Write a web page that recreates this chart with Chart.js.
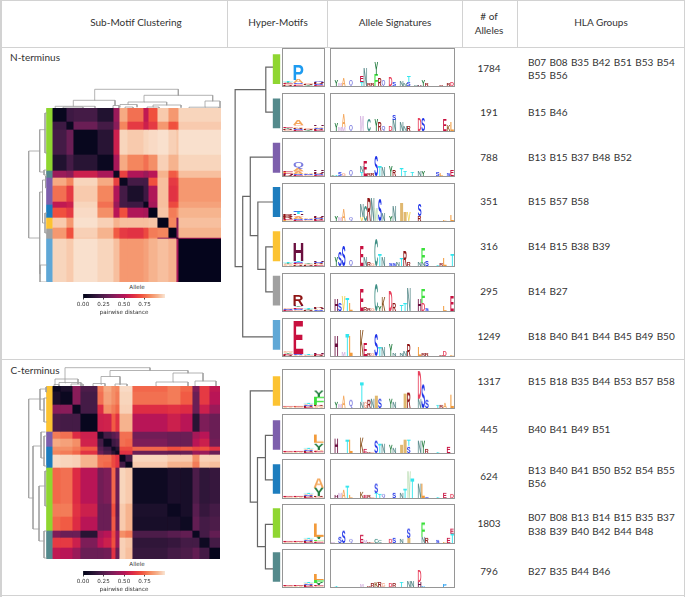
<!DOCTYPE html>
<html>
<head>
<meta charset="utf-8">
<title>Hyper-motifs</title>
<script src="https://cdn.jsdelivr.net/npm/chart.js@4"></script>
<style>
  html, body { margin: 0; background: #fff; }
  #page { position: relative; width: 685px; height: 597px; overflow: hidden; font-family: Lato, "Open Sans", sans-serif; color: #333; }
  #page canvas { position: absolute; display: block; }
  .rule { position: absolute; background: #d2d2d2; }
  .txt { position: absolute; white-space: pre; text-align: center; line-height: 13.5px; font-size: 10px; transform: translate(-50%, -50%); }
  .hla { position: absolute; white-space: pre; line-height: 13.5px; font-size: 10px; transform: translateY(-50%); }
  .hla span { display: inline-block; width: 21.45px; }
  .small { font-family: "DejaVu Sans"; font-size: 5.6px; line-height: 7px; color: #333; }
  .frame { position: absolute; box-sizing: border-box; border: 1px solid #969696; }
</style>
</head>
<body>
<div id="page"></div>
<script>
'use strict';

// ---- table text
const headers = ['Sub-Motif Clustering', 'Hyper-Motifs', 'Allele Signatures', '# of\nAlleles', 'HLA Groups'];
const alleleCountsN = [1784, 191, 788, 351, 316, 295, 1249];
const alleleCountsC = [1317, 445, 624, 1803, 796];
const hlaGroupsN = [
  ['B07 B08 B35 B42 B51 B53 B54', 'B55 B56'],
  ['B15 B46'],
  ['B13 B15 B37 B48 B52'],
  ['B15 B57 B58'],
  ['B14 B15 B38 B39'],
  ['B14 B27'],
  ['B18 B40 B41 B44 B45 B49 B50'],
];
const hlaGroupsC = [
  ['B15 B18 B35 B44 B53 B57 B58'],
  ['B40 B41 B49 B51'],
  ['B13 B40 B41 B50 B52 B54 B55', 'B56'],
  ['B07 B08 B13 B14 B15 B35 B37', 'B38 B39 B40 B42 B44 B48'],
  ['B27 B35 B44 B46'],
];

// ---- hyper-motif colours
const green = '#8fd631', teal = '#548a8c', purple = '#7d5fac', blue = '#1d7dbe';
const yellow = '#fcc332', grey = '#a0a0a0', sky = '#60a8d6';
const swatchesN = [green, teal, purple, blue, yellow, grey, sky];
const swatchesC = [yellow, purple, blue, green, teal];

// ---- heatmap N-terminus: block sizes (cols, rows) and upper triangle of distances
const colSizesN = [13, 7, 24, 16, 6, 8, 16, 5, 9, 11, 8, 2, 43];
const rowSizesN = [14, 8, 25, 16, 7, 8, 16, 6, 10, 10, 10, 1, 43];
const distN = [
  [.02, .18, .2, .1, .42, .88, .76, .52, .7, .94, .84, .84, .96],
  [.03, .3, .2, .38, .8, .64, .55, .64, .84, .7, .72, .94],
  [.02, .12, .55, .96, .94, .96, .97, .98, .95, .93, .98],
  [.03, .46, .88, .8, .76, .82, .95, .9, .9, .96],
  [.04, .66, .48, .42, .5, .9, .72, .76, .92],
  [.03, .2, .2, .7, .92, .64, .66, .84],
  [.08, .18, .48, .92, .62, .64, .84],
  [.02, .45, .92, .68, .7, .86],
  [.01, .93, .78, .82, .9],
  [.01, .8, .38, .92],
  [.01, .38, .9],
  [.02, .45],
  [.01],
];
const bandSizesN = [63, 7, 27, 13, 11, 10, 43];

// ---- heatmap C-terminus
const colSizesC = [7, 12, 8, 17, 6, 8, 4, 4, 6, 7, 35, 13, 12, 7, 10, 11];
const rowSizesC = [6, 13, 9, 18, 7, 8, 4, 4, 7, 6, 36, 13, 14, 7, 10, 11];
const distC = [
  [.03, .08, .38, .22, .78, .88, .82, .8, .97, .97, .74, .78, .74, .35, .64, .52],
  [.03, .38, .2, .76, .86, .82, .78, .96, .96, .76, .78, .72, .3, .64, .5],
  [.03, .2, .6, .82, .78, .74, .95, .95, .6, .62, .6, .3, .55, .42],
  [.02, .55, .56, .72, .62, .9, .9, .5, .55, .5, .12, .35, .3],
  [.05, .2, .25, .3, .76, .76, .32, .3, .3, .45, .5, .3],
  [.03, .18, .22, .76, .74, .35, .3, .3, .5, .55, .32],
  [.04, .12, .68, .68, .74, .7, .72, .68, .7, .62],
  [.04, .62, .62, .3, .28, .3, .42, .42, .3],
  [.02, .2, .96, .94, .94, .82, .95, .95],
  [.02, .94, .9, .9, .78, .93, .92],
  [.04, .08, .07, .22, .14, .16],
  [.03, .07, .25, .16, .2],
  [.04, .28, .2, .22],
  [.03, .2, .28],
  [.04, .2],
  [.01],
];
const bandSizesC = [46, 15, 21, 63, 28];

// rocket colour scale, steps of 0.1
const rocket = ['#03051a', '#221331', '#451c47', '#6a1f56', '#921c5b', '#b91657', '#dd2c45', '#f0513f', '#f4875e', '#f6b48e', '#faebdd'];

// ---- dendrograms: [pos a, height a, pos b, height b, merge height]
const treeTopN = [
  [41.7, 7.7, 125.3, 12.7, 18.7],
  [20.3, 1.7, 62, 2.5, 7.7],
  [2, .4, 42, .4, 1.7], [60, 0, 66, 0, 2.5], [10, 0, 30, 0, .9],
  [91, 6, 159.7, 7, 12.7],
  [75, 3.5, 113.7, 3, 6],
  [67, 1, 84, 1, 3.5], [100, 1, 128, .5, 3],
  [152, .8, 167, 0, 7], [136, 0, 166, 0, .8],
  [72, 0, 80, 0, 1], [94, 0, 106, 0, 1],
];
const treeLeftN = [
  [43, 7.3, 130, 7.3, 18.3],
  [21.7, 2, 64, 3, 7.3],
  [5, .3, 45, .3, 2], [62, 0, 67, 0, 3],
  [84, 4.5, 165.7, 7, 7.3],
  [72, 1.5, 115, 2, 4.5], [68, 0, 80, 0, 1.5], [105, 0, 125, 0, 2],
  [157, 0, 174, 0, 7],
];
const treeTopC = [
  [12, 3, 97, 15.5, 18.3],
  [2, 1, 25, 2, 7],
  [1, 0, 6, 0, 1.5], [18, 0, 30, 0, 2],
  [57, 9.5, 135, 13, 15.5],
  [48, 1.5, 67, 1.5, 9.5],
  [40, 0, 52, 0, 2.5], [62, 0, 74, 0, 2],
  [120, 4, 150, 5, 13],
  [103, 0, 135, 0, 4], [142, 0, 163, 0, 5], [6, 0, 28, 0, 3.5],
];
const treeLeftC = [
  [13, 4, 112, 14, 18.3],
  [3, 1, 24, 3, 7],
  [1, 0, 6, 0, 1], [12, 0, 36, 0, 3],
  [60, 6, 143, 8, 14],
  [46, 2, 72, 3, 6], [50, 0, 80, 0, 3],
  [100, 2, 155, 3, 8], [85, 0, 120, 0, 2], [145, 0, 172, 0, 3],
];
const treeHyperN = [
  [0, 0, 1, 0, .19],
  [4, 0, 5, 0, .19],
  [3, 0, 4.5, .19, .4],
  [2, 0, 3.75, .4, .6],
  [2.875, .6, 6, 0, .8],
  [.5, .19, 4.44, .8, 1],
];
const treeHyperC = [
  [1, 0, 2, 0, .2],
  [3, 0, 4, 0, .2],
  [1.5, .2, 3.5, .2, .41],
  [0, 0, 2.5, .41, .6],
];

// ---- motif logos: four positions, letters listed bottom to top with their height
const motifN = [
  ['R3G3E3Y3T3', 'E3G3S4A10P48', 'Y3R3G3', 'E3S3R4H3Q3'],
  ['G3R3Y3E3', 'E3S4R4A4G5A14', 'Y3R3G3', 'E3R4S4A4H4'],
  ['R3H3E4L3E3', 'E3S3A6G5A8Q20', 'G3S3A3', 'E3S4R4H4H3'],
  ['L3E4R6R6', 'E3S4A6G5H4T7S3', 'G3S3A3', 'E3R4S4R3H3'],
  ['A3G3Y3T3', 'R3A3E3S4T3H57', 'R4G3Y3', 'E3A3R3S3H4'],
  ['E2A2S2G3', 'G3S4E5Y4H4R32', 'R3Y3T3', 'S3A2H3R3'],
  ['R3E3Y4A4G4', 'A2S3E105', 'G3T2', 'R3E3H3'],
];
const motifC = [
  ['A2E2G2', 'G2E2A3', 'E3R3S3A4T3', 'A3G3R3F25Y20'],
  ['G2A2E2', 'A2G2E3', 'E3R3S3A4T3', 'G3E3A3Y22L24'],
  ['G2A2E2', 'A2G2E3', 'E3R3S3A4T3', 'G3R3Y25A28'],
  ['G2A2E2', 'A2G2E3', 'E3R3S3A4T3', 'E3G4F5Y8L40'],
  ['G2A2E2', 'A2G2E3', 'E3R3S3A4T3', 'G3E3Y8F8L18'],
];

// ---- allele signature logos: 34 positions, '.' is an empty one
const sigN1 = '. Y22 M6 A25 . Q20 . . T12E22 N55 R6 R8 F35Y40 R25 Q18 . D30 S12 . N14 N8 S12T22 . N4 H5 Y22 R8 . . . R4 . R8 D10'.split(' ');
const sigN2 = '. Y25 M12 M12A40 . Q18 . . M50 . C35 . Y38 R28 Q15 . D15 N35S15 . N30 N15 R15 . . D40 S42 . . . . . E35 K20 L30'.split(' ');
const sigN3 = 'Y3 T4 S10 G8 . Q20 . . T12N20 E50 R8 R6 S65 T32 N30 . Y32 R20 . T25 T15 . T12 . N15 Y15 . . . S12 L8 . S6 E20'.split(' ');
const sigN4 = '. Y15 M10 A38 . Q12 . . V12N40 C50 R75 N75 W40 S70 N25 . Y15 N50 . I55 I30 V30 . . R15S38 . . . . . . L3 . L22'.split(' ');
const sigN5 = '. Y30 S45 S65 . Q18 . . E65 N30 R10 G8 C85 T35 N30 . S8 S8 N10 T25 R50 R12 . . N10 N10F50 S15 . . T5 R8 L25 . T35'.split(' ');
const sigN6 = '. H35 S25 V50 T40 L25 . . E70 R10 R8 G8 C85 Y15 K45 . D65 R25 . T20 T25 N75 . . H35 D25F45 S8 . . . . L15 . E50'.split(' ');
const sigN7 = '. H65 . M10 T70 L65 . . K80 E40 R8 G6 S70 T30 N30 . Y37 N8 . N8 N15 R35 . . L30 R8 R8 . . . R5 D15 . L5'.split(' ');
const sigC1 = '. Y18 M12 A35 . Q25 . . N20T60 G22 R25 N28 I35 S28 . . Y30 N20 . . I45 R50 . . N30D85 S75 S25 . . T8 R8 A15 . L40'.split(' ');
const sigC2 = '. H45 . . T40 L40 . . K50 E12 R5 G5 S35 T30 N30 . Y25 N15 . I25 I40 S22T20 . . N35 Y35 R12 . . T3 . . E20 .'.split(' ');
const sigC3 = '. H8 M15 A25 T35 L8 . . K20 E8 R8 G4 T15S30 T12 Q10 . . S15 . N15 T30 W80 T60 . N45 L45 S5 . . T3 . E15 . D12'.split(' ');
const sigC4 = 'M5 . S18 S35 . Q8 . . E25 M8 R5 G4 C12 C6 . . D12 S15 . N12 . I15S30 . . . N18F45 R15 . . S8 . L5 E15 T30E15'.split(' ');
const sigC5 = '. T5 . . . . . . M8 . R5 R10 K14 R14 G12 . D12 R10 . T16 . N20 N22 . H15D35 P4 . . . . . P8 . .'.split(' ');

const residueColors = {
  A: '#f4a75c', C: '#3f8f85', D: '#e8405c', E: '#c8103f', F: '#3be03b', G: '#f5a58c', H: '#6b0f3f',
  I: '#e0b870', K: '#8f5a28', L: '#f29a3a', M: '#d6b4e0', N: '#5f8f8f', P: '#1e9bf0', Q: '#7b7bdf',
  R: '#8f1515', S: '#1e32e8', T: '#33e6ee', V: '#f0d04a', W: '#b8dcb0', Y: '#1f7a3c',
};

// ---- defaults
Chart.defaults.animation = false;
Chart.defaults.responsive = false;
Chart.defaults.devicePixelRatio = 1;
Chart.defaults.plugins.legend.display = false;
Chart.defaults.plugins.tooltip.enabled = false;
Chart.defaults.events = [];

const page = document.querySelector('#page');

function addCanvas(x, y, w, h) {
  const c = document.createElement('canvas');
  c.width = w;
  c.height = h;
  c.style.left = x + 'px';
  c.style.top = y + 'px';
  c.style.width = w + 'px';
  c.style.height = h + 'px';
  page.appendChild(c);
  return c;
}

function addRule(x, y, w, h) {
  const d = document.createElement('div');
  d.className = 'rule';
  d.style.cssText = `left:${x}px;top:${y}px;width:${w}px;height:${h}px`;
  page.appendChild(d);
}

function addText(text, x, y, cls) {
  const d = document.createElement('div');
  d.className = cls || 'txt';
  d.textContent = text;
  d.style.left = x + 'px';
  d.style.top = y + 'px';
  page.appendChild(d);
  return d;
}

function addGroups(tokens, x, y) {
  const d = addText('', x, y, 'hla');
  tokens.split(' ').forEach((t) => {
    const s = document.createElement('span');
    s.textContent = t;
    d.appendChild(s);
  });
}

function mixRocket(v) {
  const p = Math.max(0, Math.min(.9999, v)) * 10;
  const i = Math.floor(p);
  const a = parseInt(rocket[i].slice(1), 16);
  const b = parseInt(rocket[i + 1].slice(1), 16);
  const ch = (s) => Math.round(((a >> s) & 255) * (1 - p + i) + ((b >> s) & 255) * (p - i));
  return `rgb(${ch(16)},${ch(8)},${ch(0)})`;
}

const hiddenScale = { display: false };

// clustered heatmap: floating horizontal bars, one dataset per column block
function heatmap(x, y, colSizes, rowSizes, dist, bandSizes, bandColors) {
  const cols = colSizes.reduce((a, b) => a + b, 0);
  const rows = rowSizes.reduce((a, b) => a + b, 0);
  const rowBlock = [];
  rowSizes.forEach((n, i) => { for (let k = 0; k < n; k++) rowBlock.push(i); });
  const value = (i, j) => (i <= j ? dist[i][j - i] : dist[j][i - j]);
  const datasets = [];
  let start = 0;
  colSizes.forEach((size, j) => {
    const from = start;
    datasets.push({
      data: rowBlock.map(() => [from, from + size]),
      backgroundColor: rowBlock.map((i) => mixRocket(value(i, j))),
      barPercentage: 1, categoryPercentage: 1, grouped: false, borderWidth: 0,
    });
    start += size;
  });
  const bandRow = [];
  bandSizes.forEach((n, i) => { for (let k = 0; k < n; k++) bandRow.push(bandColors[i]); });
  datasets.push({
    data: bandRow.map(() => [-6.4, -.4]),
    backgroundColor: bandRow,
    barPercentage: 1, categoryPercentage: 1, grouped: false, borderWidth: 0,
  });
  return new Chart(addCanvas(x - 7, y, cols + 7, rows), {
    type: 'bar',
    data: { labels: rowBlock.map((_, i) => i), datasets },
    options: {
      indexAxis: 'y',
      scales: {
        x: { display: false, min: -7, max: cols },
        y: { display: false },
      },
    },
  });
}

// links to a broken line, gaps between links
function treePoints(links, horizontal) {
  const pts = [];
  const add = (p, h) => pts.push(horizontal ? { x: p, y: h } : { x: h, y: p });
  links.forEach(([a, ha, b, hb, m]) => {
    add(a, ha); add(a, m); add(b, m); add(b, hb);
    pts.push({ x: null, y: null });
  });
  return pts;
}

function dendrogram(x, y, w, h, links, horizontal, posRange, hMax, color, width) {
  const posScale = { display: false, type: 'linear', min: posRange[0], max: posRange[1] };
  const hScale = { display: false, type: 'linear', min: 0, max: hMax };
  return new Chart(addCanvas(x, y, w, h), {
    type: 'scatter',
    data: {
      datasets: [{
        data: treePoints(links, horizontal),
        showLine: true, spanGaps: false, pointRadius: 0,
        borderColor: color, borderWidth: width, borderCapStyle: 'square',
      }],
    },
    options: {
      scales: horizontal
        ? { x: posScale, y: hScale }
        : { x: { ...hScale, reverse: true }, y: { ...posScale, reverse: true } },
    },
  });
}

// draws each stacked bar of a logo as its letter, stretched to the bar
const logoLetters = {
  id: 'logoLetters',
  afterDatasetsDraw(chart) {
    const ctx = chart.ctx;
    chart.data.datasets.forEach((ds, di) => {
      chart.getDatasetMeta(di).data.forEach((bar, i) => {
        const letter = ds.letters[i];
        if (!letter) return;
        const top = Math.min(bar.y, bar.base);
        const h = Math.abs(bar.base - bar.y);
        if (h <= 0) return;
        ctx.save();
        ctx.font = 'bold 40px "Liberation Sans"';
        const m = ctx.measureText(letter);
        const gw = m.actualBoundingBoxLeft + m.actualBoundingBoxRight;
        const gh = m.actualBoundingBoxAscent + m.actualBoundingBoxDescent;
        ctx.translate(bar.x - bar.width / 2, top);
        ctx.scale(bar.width / gw, h / gh);
        ctx.fillStyle = residueColors[letter] || '#444';
        ctx.textBaseline = 'alphabetic';
        ctx.fillText(letter, m.actualBoundingBoxLeft, m.actualBoundingBoxAscent);
        ctx.restore();
      });
    });
  },
};

function logo(x, y, w, h, positions) {
  const frame = document.createElement('div');
  frame.className = 'frame';
  frame.style.cssText = `left:${x}px;top:${y}px;width:${w}px;height:${h}px`;
  page.appendChild(frame);

  const stacks = positions.map((s) => [...s.matchAll(/([A-Z])(\d+)/g)].map((m) => [m[1], +m[2]]));
  const depth = Math.max(...stacks.map((s) => s.length));
  const datasets = [];
  for (let k = 0; k < depth; k++) {
    datasets.push({
      data: stacks.map((s) => (s[k] ? s[k][1] : 0)),
      letters: stacks.map((s) => (s[k] ? s[k][0] : '')),
      backgroundColor: 'transparent',
      barPercentage: 1, categoryPercentage: 1, borderWidth: 0,
    });
  }
  new Chart(addCanvas(x + 1, y + 1, w - 2, h - 2), {
    type: 'bar',
    data: { labels: positions.map((_, i) => i), datasets },
    options: {
      scales: {
        x: { display: false, stacked: true },
        y: { display: false, stacked: true, min: 0, max: 117 },
      },
    },
    plugins: [logoLetters],
  });
}

// swatches of the hyper-motif column
function swatches(x, y, h, colors) {
  new Chart(addCanvas(x, y, 9, h), {
    type: 'bar',
    data: {
      labels: [''],
      datasets: colors.map((c, i) => ({
        data: [[i - .33, i + .33]],
        backgroundColor: c,
        barPercentage: 1, categoryPercentage: 1, grouped: false, borderWidth: 0,
      })),
    },
    options: {
      layout: { padding: { left: .7, right: .7 } },
      scales: {
        x: hiddenScale,
        y: { display: false, reverse: true, min: -.5, max: colors.length - .5 },
      },
    },
  });
}

// colour bar, ticks and its title come from the axis
const colorbarStops = [];
for (let k = 0; k < 82; k++) colorbarStops.push(k / 82);

function colorbar(x, y) {
  new Chart(addCanvas(x - 20, y, 122, 22), {
    type: 'bar',
    data: {
      labels: [''],
      datasets: colorbarStops.map((v) => ({
        data: [[v, v + 1 / 82]],
        backgroundColor: mixRocket(v),
        barPercentage: 1, categoryPercentage: 1, grouped: false, borderWidth: 0,
      })),
    },
    options: {
      indexAxis: 'y',
      layout: { padding: { left: 20, right: 20 } },
      scales: {
        y: { display: false },
        x: {
          min: 0, max: 1,
          afterBuildTicks(a) { a.ticks = [0, .25, .5, .75].map((value) => ({ value })); },
          afterFit(a) { a.height = 18; },
          border: { display: false },
          grid: { drawOnChartArea: false, tickLength: 1.5, color: '#444' },
          ticks: { font: { family: 'DejaVu Sans', size: 5.6 }, color: '#333', padding: 1.5, maxRotation: 0, callback: (v) => v.toFixed(2) },
          title: { display: true, text: 'pairwise distance', font: { family: 'DejaVu Sans', size: 5.6 }, color: '#333', padding: { top: 1, bottom: 0 } },
        },
      },
    },
  });
}

// ---- table frame
addRule(0, 0, 685, 1);
addRule(0, 0, 1.5, 597);
addRule(684, 0, 1, 597);
addRule(0, 47, 685, 1);
addRule(0, 359, 685, 1);
addRule(0, 595, 685, 1);
[227, 327, 462, 517].forEach((x) => addRule(x, 0, 1, 47));

[136, 278, 395, 489, 601].forEach((x, i) => addText(headers[i], x, 23));
addText('N-terminus', 35, 58);
addText('C-terminus', 35, 371);

// ---- N-terminus
const rowsTopN = [47.5, 92.5, 137.5, 182.5, 227.5, 272.5, 317.5];
const sigsN = [sigN1, sigN2, sigN3, sigN4, sigN5, sigN6, sigN7];
const countYN = [69, 113, 158, 202, 247, 292, 337];
heatmap(53, 108, colSizesN, rowSizesN, distN, bandSizesN, swatchesN);
dendrogram(53, 88, 168, 20, treeTopN, true, [0, 168], 20, '#a0a0a0', .8);
dendrogram(27, 108, 20, 174, treeLeftN, false, [0, 174], 20, '#a0a0a0', .8);
dendrogram(234, 47, 39, 310, treeHyperN, false, [-.45, 6.45], 1.03, '#666', 1.2);
swatches(272, 47, 310, swatchesN);
rowsTopN.forEach((y, i) => {
  logo(282, y, 43, 39.5, motifN[i]);
  logo(330, y, 125, 39.5, sigsN[i]);
  addText(String(alleleCountsN[i]), 489, countYN[i]);
  const groupY = hlaGroupsN[i].length > 1 ? [62.5, 76] : [countYN[i]];
  hlaGroupsN[i].forEach((line, k) => addGroups(line, 528, groupY[k]));
});
addText('Allele', 137, 286.5, 'txt small');
colorbar(83, 294);

// ---- C-terminus
const rowsTopC = [369, 414, 459, 504, 548.5];
const sigsC = [sigC1, sigC2, sigC3, sigC4, sigC5];
const countYC = [382, 430, 477, 524, 571.5];
const groupYC = [[382], [430], [470.5, 484], [518, 531.5], [571.5]];
heatmap(53, 386, colSizesC, rowSizesC, distC, bandSizesC, swatchesC);
dendrogram(53, 366, 168, 20, treeTopC, true, [0, 168], 20, '#a0a0a0', .8);
dendrogram(27, 386, 20, 173, treeLeftC, false, [0, 173], 20, '#a0a0a0', .8);
dendrogram(234, 369, 39, 220, treeHyperC, false, [-.49, 4.45], 1.03, '#666', 1.2);
swatches(272, 369, 220, swatchesC);
rowsTopC.forEach((y, i) => {
  logo(282, y, 43, 39.5, motifC[i]);
  logo(330, y, 125, 39.5, sigsC[i]);
  addText(String(alleleCountsC[i]), 489, countYC[i]);
  hlaGroupsC[i].forEach((line, k) => addGroups(line, 528, groupYC[i][k]));
});
addText('Allele', 137, 564, 'txt small');
colorbar(83, 571);
</script>
</body>
</html>
